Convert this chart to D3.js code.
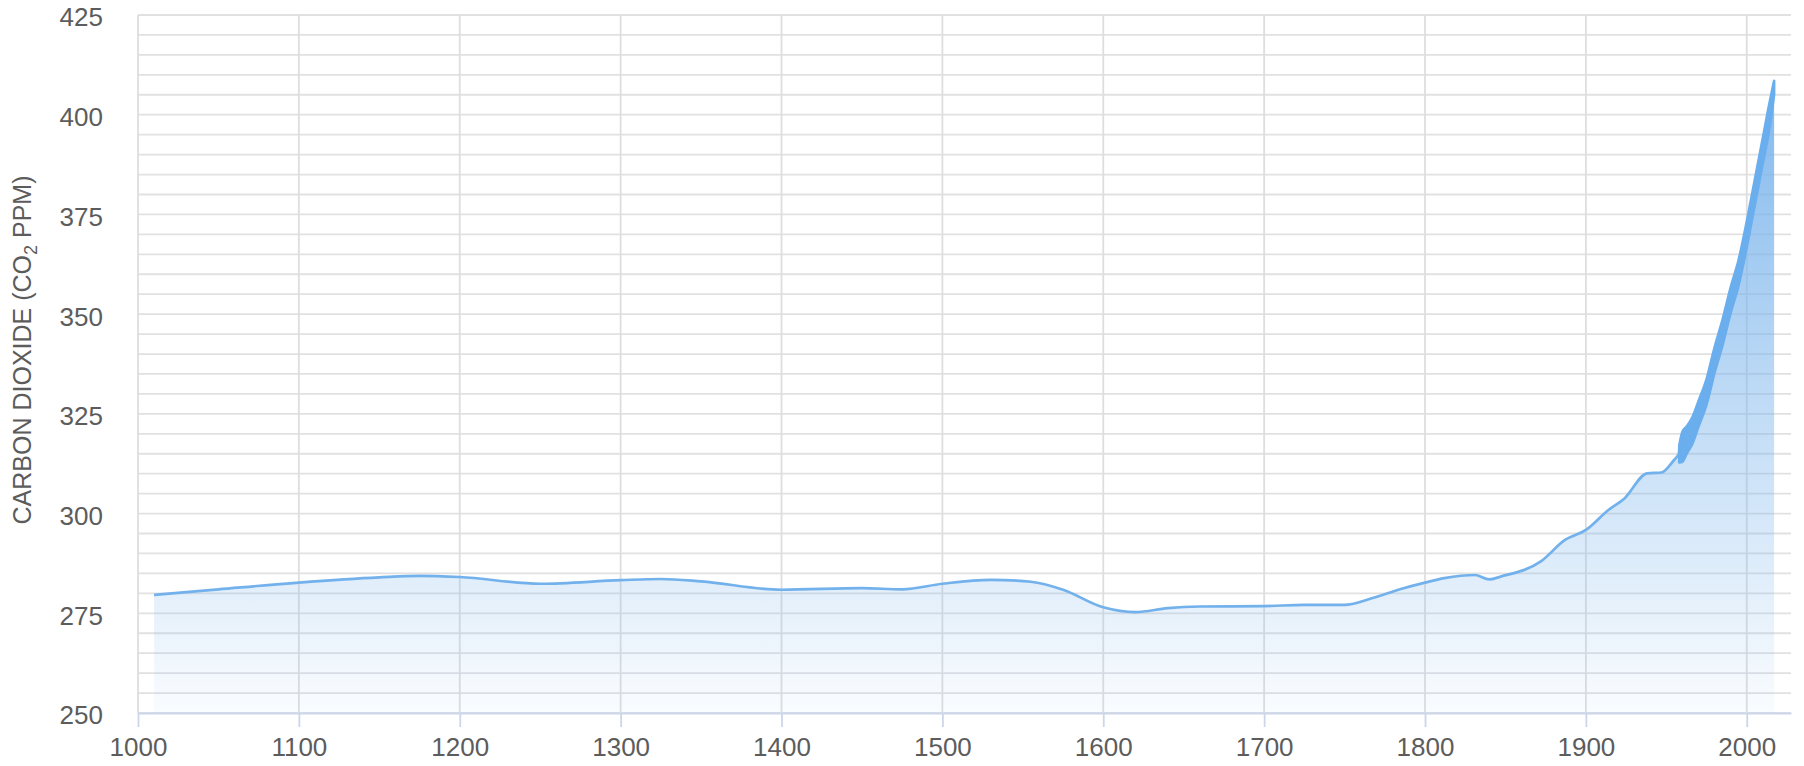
<!DOCTYPE html>
<html>
<head>
<meta charset="utf-8">
<script src="https://cdn.jsdelivr.net/npm/d3@7"></script>
<style>
  body { margin: 0; background: #fff; }
  svg { display: block; font-family: "Liberation Sans", Arial, Helvetica, sans-serif; }
</style>
</head>
<body>
<svg width="1804" height="766"></svg>
<script>
// ice core record, smoothed (year, ppm)
const iceYears = [1010, 1050, 1100, 1150, 1175, 1200, 1250, 1300, 1325, 1350, 1400, 1450, 1475, 1500, 1530, 1555, 1575, 1600, 1620, 1640, 1660, 1700, 1725, 1750, 1768, 1785, 1800, 1812, 1831, 1840, 1847, 1872, 1887, 1900, 1914, 1924, 1938, 1947, 1955];
const icePpm = [279.6, 281.0, 282.7, 284.0, 284.4, 284.1, 282.4, 283.3, 283.6, 283.0, 280.9, 281.3, 281.0, 282.4, 283.4, 282.9, 280.9, 276.5, 275.3, 276.3, 276.7, 276.8, 277.1, 277.1, 278.9, 281.1, 282.7, 283.8, 284.6, 283.5, 284.2, 288.0, 293.4, 295.9, 300.9, 303.8, 310.1, 310.3, 313.5];

// Mauna Loa era: top and bottom of the seasonal swing
const mloYears = [1958, 1960, 1963, 1966, 1970, 1975, 1980, 1985, 1990, 1995, 2000, 2005, 2010, 2014, 2017];
const mloHigh = [317.0, 320.5, 322.0, 324.0, 328.2, 333.7, 341.7, 348.7, 356.7, 363.7, 373.2, 383.7, 394.2, 402.7, 408.5];
const mloLow = [312.8, 313.0, 315.3, 317.3, 321.8, 327.3, 335.3, 342.3, 350.3, 357.3, 366.8, 377.3, 387.8, 396.3, 405.0];

const yTicks = [250, 275, 300, 325, 350, 375, 400, 425];
const xTicks = [1000, 1100, 1200, 1300, 1400, 1500, 1600, 1700, 1800, 1900, 2000];

function init() {
  const svg = d3.select("svg");

  const x = d3.scaleLinear().domain([1000, 2027.5]).range([138, 1791]);
  const y = d3.scaleLinear().domain([250, 425]).range([713, 15]);

  const ice = iceYears.map(function (yr, i) { return { yr: yr, v: icePpm[i] }; });
  const mlo = mloYears.map(function (yr, i) { return { yr: yr, hi: mloHigh[i], lo: mloLow[i] }; });
  const upper = ice.concat(mlo.map(function (d) { return { yr: d.yr, v: d.hi }; }));

  // gradient for the area
  const grad = svg.append("defs").append("linearGradient")
    .attr("id", "fillGrad")
    .attr("gradientUnits", "userSpaceOnUse")
    .attr("x1", 0).attr("x2", 0)
    .attr("y1", y(d3.max(mloHigh)))
    .attr("y2", y(250));
  grad.append("stop").attr("offset", 0).attr("stop-color", "#7cb5ec").attr("stop-opacity", 0.95);
  grad.append("stop").attr("offset", 1).attr("stop-color", "#7cb5ec").attr("stop-opacity", 0.04);

  // grid
  const grid = svg.append("g");
  grid.selectAll(".hgrid")
    .data(y.ticks(35))
    .enter()
    .append("line")
    .attr("x1", x.range()[0])
    .attr("x2", x.range()[1])
    .attr("y1", function (d) { return y(d); })
    .attr("y2", function (d) { return y(d); })
    .attr("stroke", "#e1e1e1")
    .attr("stroke-width", 1.8);
  grid.selectAll(".vgrid")
    .data(xTicks)
    .enter()
    .append("line")
    .attr("x1", function (d) { return x(d); })
    .attr("x2", function (d) { return x(d); })
    .attr("y1", y(425))
    .attr("y2", y(250))
    .attr("stroke", "#dedede")
    .attr("stroke-width", 1.8);

  // filled area under the curve
  svg.append("path")
    .datum(upper)
    .attr("fill", "url(#fillGrad)")
    .attr("d", d3.area()
      .x(function (d) { return x(d.yr); })
      .y0(y(250))
      .y1(function (d) { return y(d.v); })
      .curve(d3.curveMonotoneX));

  // ice core line
  svg.append("path")
    .datum(ice.concat([{ yr: mlo[0].yr, v: (mlo[0].hi + mlo[0].lo) / 2 }]))
    .attr("fill", "none")
    .attr("stroke", "#72b1ec")
    .attr("stroke-width", 2.7)
    .attr("d", d3.line()
      .x(function (d) { return x(d.yr); })
      .y(function (d) { return y(d.v); })
      .curve(d3.curveMonotoneX));

  // monthly band
  svg.append("path")
    .datum(mlo)
    .attr("fill", "#6aaeee")
    .attr("stroke", "#6aaeee")
    .attr("stroke-width", 2.6)
    .attr("stroke-linejoin", "round")
    .attr("d", d3.area()
      .x(function (d) { return x(d.yr); })
      .y0(function (d) { return y(d.lo); })
      .y1(function (d) { return y(d.hi); })
      .curve(d3.curveMonotoneX));

  // axes
  const yAxis = svg.append("g")
    .attr("transform", "translate(138,0)")
    .call(d3.axisLeft(y).tickValues(yTicks).tickSize(0).tickPadding(35));
  yAxis.select(".domain").remove();
  yAxis.selectAll("text")
    .attr("dy", "0.42em")
    .attr("fill", "#5c5c5c")
    .style("font-size", "26px");

  const xAxis = svg.append("g")
    .attr("transform", "translate(0,713)")
    .call(d3.axisBottom(x).tickValues(xTicks).tickSize(14).tickSizeOuter(0).tickPadding(11).tickFormat(d3.format("d")));
  xAxis.select(".domain").attr("stroke", "#ccd6eb").attr("stroke-width", 2);
  xAxis.selectAll(".tick line").attr("stroke", "#ccd6eb").attr("stroke-width", 1.8);
  xAxis.selectAll("text")
    .attr("fill", "#5c5c5c")
    .style("font-size", "26px");

  // y axis title
  const title = svg.append("text")
    .attr("transform", "translate(31,350) rotate(-90)")
    .attr("text-anchor", "middle")
    .attr("fill", "#5c5c5c")
    .style("font-size", "25px");
  title.append("tspan").text("CARBON DIOXIDE (CO");
  title.append("tspan").attr("dy", 6).style("font-size", "18px").text("2");
  title.append("tspan").attr("dy", -6).text(" PPM)");
}

init();
</script>
</body>
</html>
